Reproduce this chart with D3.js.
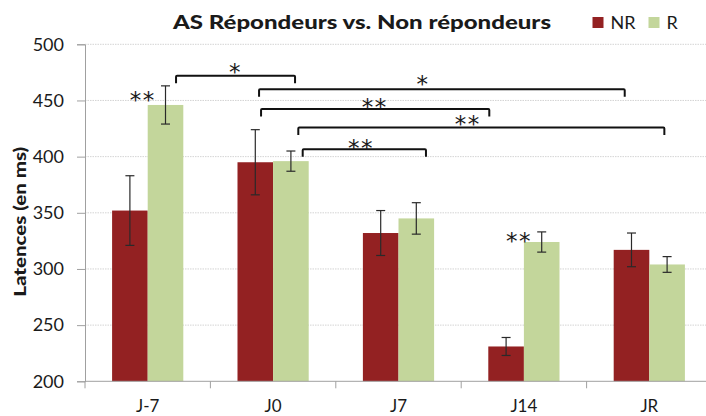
<!DOCTYPE html>
<html><head><meta charset="utf-8">
<script src="https://cdn.jsdelivr.net/npm/d3@7"></script>
<style>body{margin:0;background:#fff}svg{display:block}text{font-family:Lato,"Open Sans",sans-serif;fill:#1a1a1a}</style>
</head><body>
<svg id="c" width="706" height="416"></svg>
<script>
const categories = ["J-7","J0","J7","J14","JR"];
const seriesNames = ["NR","R"];
const nrValues = [352, 395, 332, 231, 317];
const rValues = [446, 396, 345, 324, 304];
const nrErrors = [31, 29, 20, 8, 15];
const rErrors = [17, 9, 14, 9, 7];
const yTicks = [200, 250, 300, 350, 400, 450, 500];
// brackets: from/to in category units (0..5), level in ms, label position in category units / ms
const bracketFrom = [0.726, 1.388, 1.404, 1.701, 1.736];
const bracketTo = [1.675, 4.304, 3.224, 4.620, 2.719];
const bracketLevel = [472, 460, 442.5, 426, 406.5];
const bracketLabelPos = [1.2, 2.695, 2.31, 3.052, 2.2];
const bracketLabelValue = [480, 470, 448.7, 433.8, 412.8];
const bracketLabels = ["*", "*", "**", "**", "**"];
// bar annotations: category units + value
const annotPos = [0.46, 3.46];
const annotValue = [455, 329.6];
const annotLabels = ["**", "**"];
const colors = {NR: "#932122", R: "#c3d69b"};

const svg = d3.select("#c");
const pLeft = 85, pRight = 712, pTop = 44.3, pBottom = 381.3;
const y = d3.scaleLinear().domain([200, 500]).range([pBottom, pTop]);
const x = d3.scaleBand().domain(categories).range([pLeft, pRight]).paddingInner(0).paddingOuter(0);
const xs = d3.scaleBand().domain(seriesNames).range([0, x.bandwidth()]).paddingInner(0).paddingOuter(0.761);
const xu = d3.scaleLinear().domain([0, 5]).range([pLeft, pRight]);
const starFont = "DejaVu Sans, sans-serif", starSize = 23, starShift = 13.5;

// gridlines
svg.append("g").selectAll("line").data(yTicks.filter(d => d > 200)).join("line")
  .attr("x1", pLeft).attr("x2", 706).attr("y1", d => y(d)).attr("y2", d => y(d))
  .attr("stroke", "#d4d4d4").attr("stroke-width", 1).attr("stroke-dasharray", "1.5,1");

// y axis
const yAxis = d3.axisLeft(y).tickValues(yTicks).tickSize(8).tickPadding(13);
const gy = svg.append("g").attr("transform", `translate(${pLeft},0)`).call(yAxis);
gy.select(".domain").attr("stroke", "#a0a0a0");
gy.selectAll(".tick line").attr("stroke", "#a0a0a0");
gy.selectAll(".tick text").attr("font-size", 18).attr("fill", "#1a1a1a").style("font-family", "Lato, sans-serif");

// bars
const data = categories.map((c, i) => ({c, vals: [
  {s: "NR", v: nrValues[i], e: nrErrors[i]},
  {s: "R", v: rValues[i], e: rErrors[i]}]}));
const groups = svg.append("g").selectAll("g").data(data).join("g")
  .attr("transform", d => `translate(${x(d.c)},0)`);
groups.selectAll("rect").data(d => d.vals).join("rect")
  .attr("x", d => xs(d.s)).attr("width", xs.bandwidth())
  .attr("y", d => y(d.v)).attr("height", d => y(200) - y(d.v))
  .attr("fill", d => colors[d.s]);
// error bars
const eb = groups.selectAll("g.eb").data(d => d.vals).join("g").attr("class", "eb")
  .attr("stroke", "#2a2a2a").attr("stroke-width", 1.2);
eb.append("line").attr("x1", d => xs(d.s) + xs.bandwidth() / 2).attr("x2", d => xs(d.s) + xs.bandwidth() / 2)
  .attr("y1", d => y(d.v + d.e)).attr("y2", d => y(d.v - d.e));
eb.append("line").attr("x1", d => xs(d.s) + xs.bandwidth() / 2 - 4.5).attr("x2", d => xs(d.s) + xs.bandwidth() / 2 + 4.5)
  .attr("y1", d => y(d.v + d.e)).attr("y2", d => y(d.v + d.e));
eb.append("line").attr("x1", d => xs(d.s) + xs.bandwidth() / 2 - 4.5).attr("x2", d => xs(d.s) + xs.bandwidth() / 2 + 4.5)
  .attr("y1", d => y(d.v - d.e)).attr("y2", d => y(d.v - d.e));

// x axis
svg.append("line").attr("x1", pLeft).attr("x2", 706).attr("y1", pBottom).attr("y2", pBottom)
  .attr("stroke", "#a0a0a0");
svg.append("g").selectAll("line").data(categories).join("line")
  .attr("x1", d => x(d)).attr("x2", d => x(d)).attr("y1", pBottom).attr("y2", pBottom + 7)
  .attr("stroke", "#a0a0a0");
svg.append("g").selectAll("text").data(categories).join("text")
  .attr("x", d => x(d) + x.bandwidth() / 2).attr("y", 412).attr("text-anchor", "middle")
  .attr("font-size", 17).text(d => d);

// brackets
const br = bracketFrom.map((f, i) => ({f, t: bracketTo[i], v: bracketLevel[i], lp: bracketLabelPos[i], lv: bracketLabelValue[i], l: bracketLabels[i]}));
const gb = svg.append("g");
gb.selectAll("path").data(br).join("path")
  .attr("d", d => { const yy = y(d.v); return `M${xu(d.f)},${yy + 7.5}V${yy + 1}Q${xu(d.f)},${yy} ${xu(d.f) + 1},${yy}H${xu(d.t) - 1}Q${xu(d.t)},${yy} ${xu(d.t)},${yy + 1}V${yy + 7.5}`; })
  .attr("fill", "none").attr("stroke", "#111").attr("stroke-width", 2);
gb.selectAll("text").data(br).join("text")
  .attr("x", d => xu(d.lp)).attr("y", d => y(d.lv) + starShift).attr("text-anchor", "middle")
  .style("font-family", starFont).attr("font-size", starSize).attr("letter-spacing", 1.5).text(d => d.l);

svg.append("g").selectAll("text").data(annotPos).join("text")
  .attr("x", d => xu(d)).attr("y", (d, i) => y(annotValue[i]) + starShift).attr("text-anchor", "middle")
  .style("font-family", starFont).attr("font-size", starSize).attr("letter-spacing", 1.5).text((d, i) => annotLabels[i]);

// title
svg.append("text").attr("x", 362).attr("y", 28.5).attr("text-anchor", "middle")
  .attr("font-size", 19.5).attr("font-weight", "900").attr("textLength", 378).attr("lengthAdjust", "spacingAndGlyphs")
  .text("AS Répondeurs vs. Non répondeurs");

// y-axis title
svg.append("text").attr("transform", "translate(26,221.7) rotate(-90)").attr("text-anchor", "middle")
  .attr("font-size", 16.5).attr("font-weight", "900").attr("textLength", 150).attr("lengthAdjust", "spacingAndGlyphs")
  .text("Latences (en ms)");

// legend
const legX = [592.5, 648.5];
const lg = svg.append("g").selectAll("g").data(seriesNames).join("g")
  .attr("transform", (d, i) => `translate(${legX[i]},17)`);
lg.append("rect").attr("width", 11).attr("height", 11).attr("fill", d => colors[d]);
lg.append("text").attr("x", 18).attr("y", 11.5).attr("font-size", 18).text(d => d);
</script>
</body></html>
